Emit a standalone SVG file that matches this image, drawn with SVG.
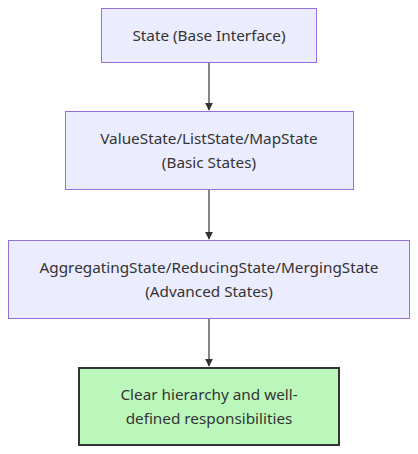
<svg xmlns="http://www.w3.org/2000/svg" width="418" height="454" viewBox="0 0 418 454">
<style>
.node rect{fill:#ECECFF;stroke:#9370DB;stroke-width:1}
.node.done rect{fill:#bbf7bb;stroke:#333;stroke-width:2}
text{font-family:"Noto Sans","Open Sans",sans-serif;font-size:15.3px;fill:#333;text-anchor:middle;dominant-baseline:central}
.edge{stroke:#333;stroke-width:1.2;fill:none}
</style>
<defs>
<marker id="arr" viewBox="0 0 10 10" refX="9" refY="5" markerWidth="8" markerHeight="8" orient="auto" markerUnits="userSpaceOnUse">
<path d="M0,0 L10,5 L0,10 z" fill="#333"/>
</marker>
</defs>
<g id="edges">
<line class="edge" x1="209" y1="62" x2="209" y2="110" marker-end="url(#arr)"/>
<line class="edge" x1="209" y1="189" x2="209" y2="239" marker-end="url(#arr)"/>
<line class="edge" x1="209" y1="318" x2="209" y2="366" marker-end="url(#arr)"/>
</g>
<g id="n1" class="node">
<rect x="101.5" y="8.5" width="215" height="54"/>
<text x="209" y="35">State (Base Interface)</text>
</g>
<g id="n2" class="node">
<rect x="65.5" y="111.5" width="288" height="78"/>
<text x="209" y="138">ValueState/ListState/MapState</text>
<text x="209" y="162">(Basic States)</text>
</g>
<g id="n3" class="node">
<rect x="8.5" y="240.5" width="401" height="78"/>
<text x="209" y="267">AggregatingState/ReducingState/MergingState</text>
<text x="209" y="291">(Advanced States)</text>
</g>
<g id="n4" class="node done">
<rect x="79" y="368" width="260" height="77"/>
<text x="209" y="394">Clear hierarchy and well-</text>
<text x="209" y="418">defined responsibilities</text>
</g>
</svg>
